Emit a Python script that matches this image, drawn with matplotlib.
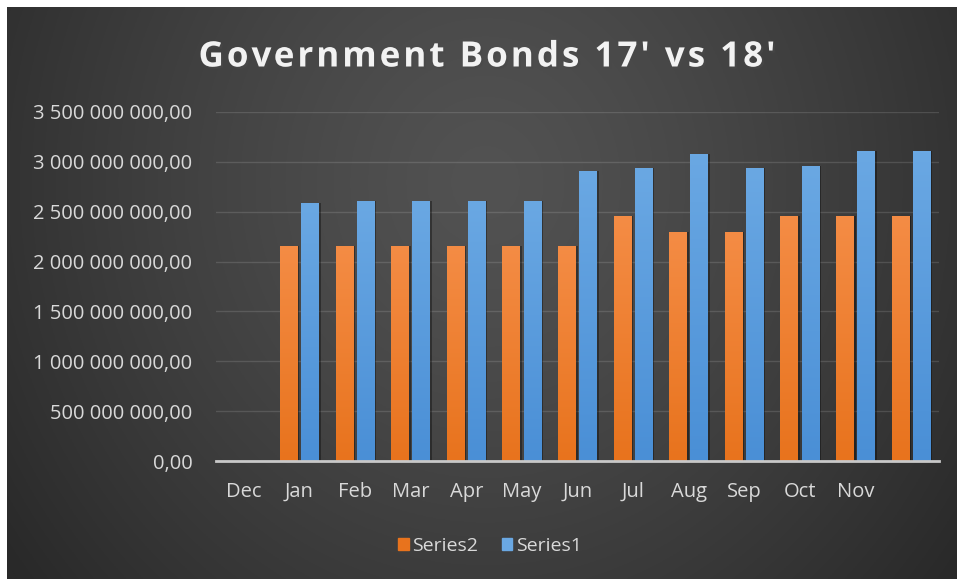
import numpy as np
import matplotlib.pyplot as plt
import matplotlib.patheffects as pe
from matplotlib.ticker import FuncFormatter
from matplotlib.textpath import TextPath, text_to_path
from matplotlib.font_manager import FontProperties
from matplotlib.patches import PathPatch
from matplotlib.path import Path
from matplotlib.transforms import IdentityTransform
import matplotlib.colors as mcolors

# data
months = ['Dec', 'Jan', 'Feb', 'Mar', 'Apr', 'May', 'Jun', 'Jul', 'Aug', 'Sep', 'Oct', 'Nov', '']
series2 = [0, 2.16e9, 2.16e9, 2.16e9, 2.16e9, 2.16e9, 2.16e9, 2.455e9, 2.30e9, 2.30e9, 2.455e9, 2.455e9, 2.455e9]
series1 = [0, 2.59e9, 2.61e9, 2.61e9, 2.61e9, 2.61e9, 2.905e9, 2.935e9, 3.08e9, 2.935e9, 2.96e9, 3.11e9, 3.11e9]
title = "Government Bonds 17' vs 18'"

orange_top, orange_bot = '#f48c45', '#e8731d'
blue_top, blue_bot = '#6aa8e3', '#4a8fd6'
font = ['Open Sans', 'DejaVu Sans']

fig = plt.figure(figsize=(9.57, 5.79), dpi=100, facecolor='white')

# dark gradient background, thin white margin at top and left only
bg = fig.add_axes([7 / 957, -0.02, 1.0, 1 - 7 / 579 + 0.02])
bg.set_axis_off()
yy, xx = np.mgrid[0:1:300j, 0:1:500j]
r = np.sqrt(((xx - 0.5) / 0.62) ** 2 + ((yy - 0.3) / 1.1) ** 2)
shade = 0x52 - (0x52 - 0x29) * np.clip(r, 0, 1) ** 1.3
img = np.dstack([shade, shade, shade]) / 255.0
bg.imshow(img, aspect='auto', extent=[0, 1, 0, 1], origin='upper')
bg.set_xlim(0, 1)
bg.set_ylim(0, 1)

ax = fig.add_axes([216 / 957, 1 - 461 / 579, 723 / 957, 349 / 579])
ax.patch.set_alpha(0)

x = np.arange(len(months))
w = 0.32
off = 0.19


def gradient_bars(xpos, vals, top, bot):
    bars = ax.bar(xpos, vals, w, color=bot, zorder=3, linewidth=0)
    # soft shadow to the right of each bar
    ax.bar(xpos + 0.03, vals, w, color='black', alpha=0.35, zorder=2, linewidth=0)
    grad = np.linspace(0, 1, 100)[:, None]
    c1 = np.array(mcolors.to_rgb(top))
    c2 = np.array(mcolors.to_rgb(bot))
    g = (c1[None, None, :] * (1 - grad[..., None]) + c2[None, None, :] * grad[..., None])
    for b in bars:
        if b.get_height() <= 0:
            continue
        im = ax.imshow(g, aspect='auto', zorder=4,
                       extent=[b.get_x(), b.get_x() + b.get_width(), 0, b.get_height()])
        im.set_clip_path(b)
    return bars


gradient_bars(x - off, series2, orange_top, orange_bot)
gradient_bars(x + off, series1, blue_top, blue_bot)

ax.set_xlim(-0.5, len(months) - 0.5)
ax.set_ylim(0, 3.5e9)
ax.set_yticks(np.arange(0, 3.5e9 + 1, 5e8))
ax.yaxis.set_major_formatter(FuncFormatter(
    lambda v, p: f"{v:,.2f}".replace(",", " ").replace(".", ",")))
ax.set_xticks(x)
ax.set_xticklabels(months)
ax.grid(axis='y', color='white', alpha=0.13, linewidth=1, zorder=0)
ax.tick_params(length=0, colors='#d9d9d9', labelsize=14.5)
ax.tick_params(axis='y', pad=17)
ax.tick_params(axis='x', pad=15)
for lab in ax.get_xticklabels() + ax.get_yticklabels():
    lab.set_fontfamily(font)
for s in ['top', 'right', 'left']:
    ax.spines[s].set_visible(False)
ax.spines['bottom'].set_color('#c8c8c8')
ax.spines['bottom'].set_linewidth(2)
ax.spines['bottom'].set_zorder(5)

# title with wide letter spacing, built as a path in pixel coordinates
fp = FontProperties(family='Open Sans', weight='bold', size=35)
track = 3.0
adv = [text_to_path.get_text_width_height_descent(title[:i], fp, ismath=False)[0] if i else 0
       for i in range(len(title) + 1)]
total = adv[-1] + track * (len(title) - 1)
x0 = 487 - total / 2
base = 579 - 66.5
verts, codes = [], []
for i, ch in enumerate(title):
    if ch == ' ':
        continue
    tp = TextPath((x0 + adv[i] + track * i, base), ch, prop=fp)
    verts.append(tp.vertices)
    codes.append(tp.codes)
tpath = Path(np.concatenate(verts), np.concatenate(codes))
patch = PathPatch(tpath, transform=IdentityTransform(), facecolor='#f2f2f2', edgecolor='none',
                  path_effects=[pe.withSimplePatchShadow(offset=(1.5, -1.5), alpha=0.6)])
fig.patches.append(patch)

handles = [plt.Rectangle((0, 0), 1, 1, color=orange_bot), plt.Rectangle((0, 0), 1, 1, color=blue_top)]
leg = fig.legend(handles, ['Series2', 'Series1'], loc='center', bbox_to_anchor=(490 / 957, 1 - 546 / 579),
                 ncol=2, frameon=False, handlelength=0.55, handleheight=0.55, handletextpad=0.2,
                 columnspacing=1.2, prop={'family': font, 'size': 14})
for t in leg.get_texts():
    t.set_color('#d9d9d9')

fig.savefig('out.png', dpi=100, facecolor='white')
